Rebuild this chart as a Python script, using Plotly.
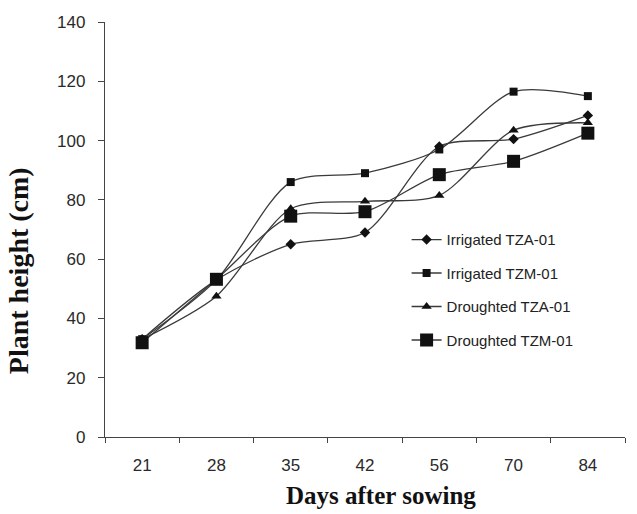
import plotly.graph_objects as go

days = ["21", "28", "35", "42", "56", "70", "84"]
irrigated_tza = [33, 53, 65, 69, 98, 100.5, 108.5]
irrigated_tzm = [33, 53, 86, 89, 97, 116.5, 115]
droughted_tza = [33, 47.5, 77, 79.5, 81.5, 103.5, 106]
droughted_tzm = [31.8, 53.2, 74.5, 76, 88.5, 93, 102.5]

series = [
    ("Irrigated TZA-01", irrigated_tza, "diamond", 8),
    ("Irrigated TZM-01", irrigated_tzm, "square", 8),
    ("Droughted TZA-01", droughted_tza, "triangle-up", 9),
    ("Droughted TZM-01", droughted_tzm, "square", 13),
]

fig = go.Figure()
for i, (name, vals, sym, sz) in enumerate(series):
    fig.add_trace(go.Scatter(
        x=days, y=vals, name=name, mode="lines+markers",
        line=dict(color="#3a3a3a", width=1.3, shape="spline", smoothing=0.8),
        marker=dict(symbol=sym, size=sz, color="#111111"),
        legendgroup=f"g{i}",
    ))

fig.update_layout(
    width=637, height=514,
    margin=dict(l=105, r=12, t=22, b=77),
    paper_bgcolor="white", plot_bgcolor="white",
    font=dict(family="Liberation Sans, Arial", color="#2a2a2a", size=17),
    showlegend=True,
    legend=dict(
        x=0.58, y=0.515, xanchor="left", yanchor="top",
        font=dict(size=15, family="Liberation Sans, Arial", color="#222222"),
        bgcolor="rgba(0,0,0,0)", traceorder="grouped", tracegroupgap=11,
    ),
    xaxis=dict(
        type="category", range=[-0.5, 6.5],
        showline=True, linecolor="#444444", linewidth=1.3,
        ticks="outside", tickson="boundaries", ticklen=5, tickcolor="#444444",
        showgrid=False, zeroline=False,
        tickfont=dict(size=17), ticklabelstandoff=12,
    ),
    yaxis=dict(
        range=[0, 140], dtick=20,
        showline=True, linecolor="#444444", linewidth=1.3,
        ticks="outside", ticklen=6, tickcolor="#444444",
        showgrid=False, zeroline=False,
        tickfont=dict(size=17), ticklabelstandoff=9,
    ),
    annotations=[
        dict(text="<b>Days after sowing</b>", xref="paper", yref="paper",
             x=0.53, y=-0.14, xanchor="center", yanchor="middle",
             showarrow=False,
             font=dict(family="Liberation Serif, Times New Roman", size=25, color="#111111")),
        dict(text="<b>Plant height (cm)</b>", xref="paper", yref="paper",
             x=-0.167, y=0.40, xanchor="center", yanchor="middle",
             textangle=-90, showarrow=False,
             font=dict(family="Liberation Serif, Times New Roman", size=28, color="#111111")),
    ],
)

fig.write_html("out.html")
